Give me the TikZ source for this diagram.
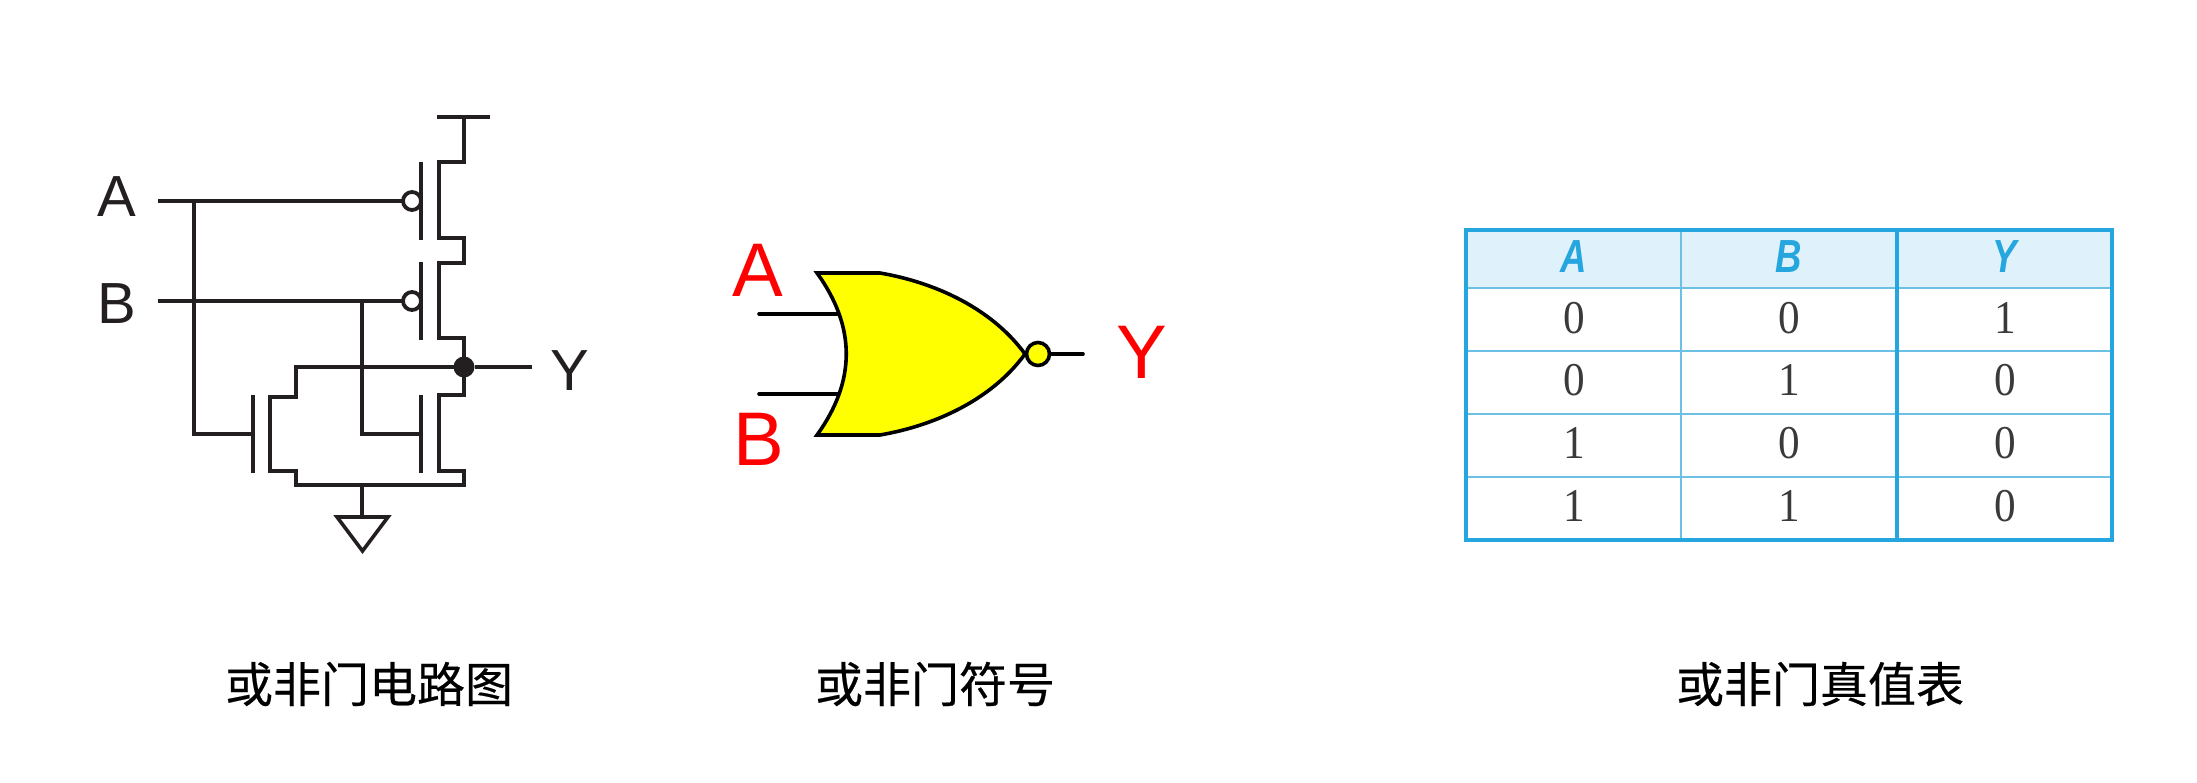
\documentclass[tikz,border=0pt]{standalone}
\usepackage{fontspec}
\setmainfont{Liberation Sans}
\newfontfamily\cjk[FakeBold=0.4]{Noto Sans CJK SC}
\newfontfamily\digitfont{Liberation Serif}
\definecolor{ink}{HTML}{231F20}
\definecolor{tblue}{HTML}{25A6DE}
\definecolor{tthin}{HTML}{6CC0E6}
\definecolor{thead}{HTML}{DFF1FA}
\definecolor{tdigit}{HTML}{3A3A3A}
\definecolor{gateyellow}{HTML}{FFFF00}
\definecolor{labelred}{HTML}{FF0000}
\tikzset{
  wire/.style={draw=ink,line width=3.6pt,line join=miter},
  glabel/.style={inner sep=0pt,outer sep=0pt,text=ink,font=\fontsize{58}{60}\selectfont},
  redlabel/.style={inner sep=0pt,outer sep=0pt,text=labelred,font=\fontsize{76}{80}\selectfont},
  gatewire/.style={draw=black,line width=3.6pt,line cap=round},
  bubblec/.style={circle,draw=ink,line width=3.8pt,fill=white,minimum size=18pt,inner sep=0pt,outer sep=0pt},
  bubbleg/.style={circle,draw=black,line width=3.6pt,fill=gateyellow,minimum size=23pt,inner sep=0pt,outer sep=0pt},
  captiontext/.style={inner sep=0pt,outer sep=0pt,text=black,font=\cjk\fontsize{48}{50}\selectfont},
  thicktbl/.style={draw=tblue,line width=4pt},
  thintbl/.style={draw=tthin,line width=1.8pt},
  headcell/.style={inner sep=0pt,outer sep=0pt,text=tblue,xscale=.85,yscale=1.08,transform shape,font=\fontsize{43}{45}\selectfont\bfseries\itshape},
  digitcell/.style={inner sep=0pt,outer sep=0pt,text=tdigit,xscale=.92,transform shape,font=\digitfont\fontsize{47}{50}\selectfont},
}
\begin{document}
\begin{tikzpicture}[x=1pt,y=-1pt]
\useasboundingbox (0,0) rectangle (2197,783);
% ---- transistor circuit
\coordinate (vl) at (437,117); \coordinate (vr) at (490,117); \coordinate (vm) at (464,117);
\draw[wire] (vl) -- (vr);
\coordinate (aS) at (158,201); \coordinate (bS) at (158,301);
\coordinate (aT) at (194,201); \coordinate (aB) at (194,434);
\coordinate (bT) at (362,301); \coordinate (bB) at (362,434);
\coordinate (g3) at (253,434); \coordinate (g4) at (421,434);
\node[bubblec] (bubA) at (412,201) {};
\node[bubblec] (bubB) at (412,301) {};
\draw[wire] (aS) -- (bubA.west);
\draw[wire] (bS) -- (bubB.west);
\draw[wire] (aT) -- (aB) -- (g3);
\draw[wire] (bT) -- (bB) -- (g4);
% gates
\coordinate (p1t) at (421,162); \coordinate (p1b) at (421,240);
\coordinate (p2t) at (421,262); \coordinate (p2b) at (421,340);
\coordinate (n2t) at (421,395); \coordinate (n2b) at (421,473);
\coordinate (n1t) at (253,395); \coordinate (n1b) at (253,473);
\draw[wire] (p1t) -- (p1b);
\draw[wire] (p2t) -- (p2b);
\draw[wire] (n2t) -- (n2b);
\draw[wire] (n1t) -- (n1b);
% series stack and output
\node[circle,fill=ink,minimum size=21pt,inner sep=0pt,outer sep=0pt] (outdot) at (464,367) {};
\coordinate (yend) at (532,367);
\coordinate (gnd) at (362,485);
\draw[wire] (vm) -- (464,162) -- (439,162) -- (439,238) -- (464,238) -- (464,263) -- (439,263) -- (439,338) -- (464,338) -- (outdot.center) -- (464,395) -- (439,395) -- (439,471) -- (464,471) -- (464,485) -- (296,485) -- (296,471) -- (270,471) -- (270,397) -- (296,397) -- (296,367) -- (outdot.center);
\draw[wire] (outdot) -- (yend);
\coordinate (triT) at (362,517);
\draw[wire] (gnd) -- (triT);
\draw[wire,line join=miter] (337,517) -- (388,517) -- (362.5,551) -- cycle;
\node[glabel] (labA) at (117,197) {A};
\node[glabel] (labB) at (117,304) {B};
\node[glabel] (labY) at (570,371) {Y};
% ---- NOR gate
\coordinate (ai) at (759,314); \coordinate (bi) at (759,394);
\coordinate (aie) at (838,314); \coordinate (bie) at (838,394);
\draw[gatewire] (ai) -- (aie);
\draw[gatewire] (bi) -- (bie);
\draw[draw=black,line width=3.6pt,fill=gateyellow,line join=miter]
  (817,273) -- (880,273) .. controls (938,283) and (993,310) .. (1025,354)
  .. controls (993,398) and (938,425) .. (880,435) -- (817,435)
  .. controls (856,381) and (856,327) .. (817,273) -- cycle;
\node[bubbleg] (bub) at (1038,354) {};
\coordinate (oe) at (1083,354);
\draw[gatewire] (bub) -- (oe);
\node[redlabel] (rA) at (758,270) {A};
\node[redlabel] (rB) at (759,439) {B};
\node[redlabel] (rY) at (1142,352) {Y};
% ---- truth table
\fill[thead] (1466,230) rectangle (2112,288);
\draw[thintbl] (1466,288) -- (2112,288);
\draw[thintbl] (1466,351) -- (2112,351);
\draw[thintbl] (1466,414) -- (2112,414);
\draw[thintbl] (1466,477) -- (2112,477);
\draw[thintbl] (1681,230) -- (1681,540);
\draw[thicktbl] (1897,230) -- (1897,540);
\draw[thicktbl] (1466,230) rectangle (2112,540);
\node[headcell] (hA) at (1574,257) {A};
\node[headcell] (hB) at (1789,257) {B};
\node[headcell] (hY) at (2005,257) {Y};
\node[digitcell] (c11) at (1574,318) {0};
\node[digitcell] (c12) at (1789,318) {0};
\node[digitcell] (c13) at (2005,318) {1};
\node[digitcell] (c21) at (1574,380) {0};
\node[digitcell] (c22) at (1789,380) {1};
\node[digitcell] (c23) at (2005,380) {0};
\node[digitcell] (c31) at (1574,443) {1};
\node[digitcell] (c32) at (1789,443) {0};
\node[digitcell] (c33) at (2005,443) {0};
\node[digitcell] (c41) at (1574,506) {1};
\node[digitcell] (c42) at (1789,506) {1};
\node[digitcell] (c43) at (2005,506) {0};
% ---- captions
\node[captiontext] (cap1) at (369,684) {或非门电路图};
\node[captiontext] (cap2) at (935,684) {或非门符号};
\node[captiontext] (cap3) at (1820,684) {或非门真值表};
\end{tikzpicture}
\end{document}
